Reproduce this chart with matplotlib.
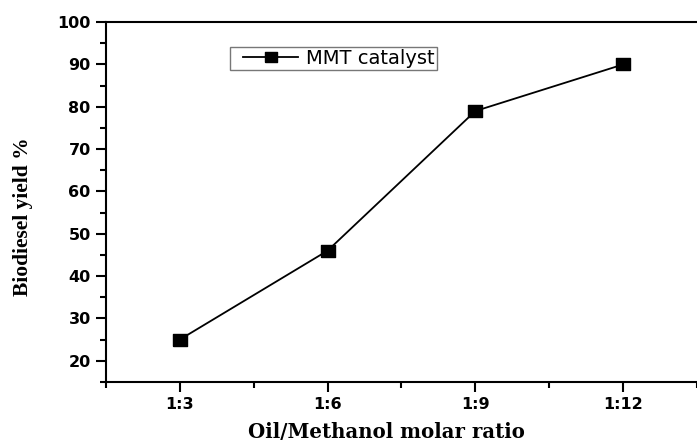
import matplotlib.pyplot as plt
from matplotlib.legend_handler import HandlerLine2D
from matplotlib.ticker import MultipleLocator

ratios = ["1:3", "1:6", "1:9", "1:12"]
yield_pct = [25, 46, 79, 90]

# slightly wide square marker, like the original export
WIDE_SQUARE = [(-1, -0.8), (1, -0.8), (1, 0.8), (-1, 0.8), (-1, -0.8)]


def main():
    fig = plt.figure(figsize=(6.97, 4.43), dpi=100)
    ax = fig.add_axes([0.152, 0.138, 0.848, 0.812])

    xs = list(range(1, len(ratios) + 1))
    line, = ax.plot(xs, yield_pct, color="black", lw=1.3, marker=WIDE_SQUARE,
                    markersize=10.5, label="MMT catalyst")

    ax.set_xlim(0.5, 4.5)
    ax.set_ylim(15, 100)
    ax.set_xticks(xs)
    ax.set_xticklabels(ratios)
    ax.xaxis.set_minor_locator(MultipleLocator(0.5))
    ax.yaxis.set_major_locator(MultipleLocator(10))
    ax.yaxis.set_minor_locator(MultipleLocator(5))

    ax.spines["right"].set_visible(False)
    for s in ["left", "bottom", "top"]:
        ax.spines[s].set_linewidth(1.5)
    ax.tick_params(which="both", direction="out", width=1.5, top=False, right=False)
    ax.tick_params(which="major", length=7, pad=4)
    ax.tick_params(which="minor", length=4)
    for lab in ax.get_xticklabels() + ax.get_yticklabels():
        lab.set_fontfamily("DejaVu Sans")
        lab.set_fontweight("bold")
        lab.set_fontsize(11.5)

    ax.set_xlabel("Oil/Methanol molar ratio", family="DejaVu Serif",
                  fontweight="bold", fontsize=14.2)
    ax.xaxis.set_label_coords(0.475, -0.112)
    ax.set_ylabel("Biodiesel yield %", family="Liberation Serif",
                  fontweight="bold", fontsize=15.5)
    ax.yaxis.set_label_coords(-0.124, 0.458)

    leg = ax.legend(loc="upper left", bbox_to_anchor=(0.21, 0.931),
                    prop={"family": "DejaVu Sans", "size": 14},
                    fancybox=False, framealpha=1, handlelength=3.4,
                    borderpad=0.1, handletextpad=0.42, borderaxespad=0,
                    markerscale=0.8,
                    handler_map={line: HandlerLine2D(xpad=0.57)})
    leg.get_frame().set_edgecolor("#777777")
    leg.get_frame().set_linewidth(1.0)

    fig.savefig("out.png", dpi=100)


if __name__ == "__main__":
    main()
